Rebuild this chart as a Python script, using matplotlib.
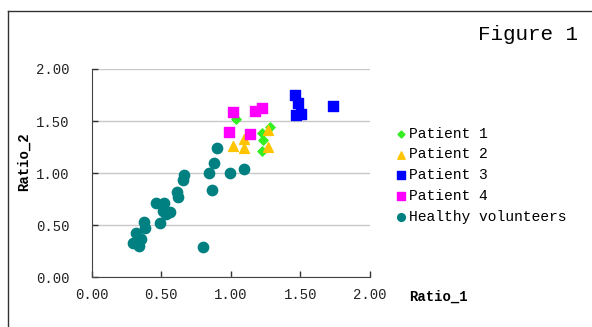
"""
Ratio_1 vs Ratio_2 scatter for four patients and healthy volunteers (Figure 1).
"""
import matplotlib
matplotlib.use("Agg")
import matplotlib.pyplot as plt
from matplotlib.lines import Line2D

# ---- data -----------------------------------------------------------------
p1_x = [1.036, 1.223, 1.283, 1.228, 1.223]
p1_y = [1.522, 1.385, 1.439, 1.321, 1.215]

p2_x = [1.019, 1.091, 1.098, 1.264, 1.264]
p2_y = [1.263, 1.327, 1.240, 1.417, 1.247]

p3_x = [1.463, 1.482, 1.468, 1.506, 1.731]
p3_y = [1.747, 1.673, 1.554, 1.567, 1.647]

p4_x = [1.014, 0.990, 1.175, 1.225, 1.137]
p4_y = [1.590, 1.394, 1.593, 1.625, 1.378]

hv_x = [0.299, 0.342, 0.352, 0.319, 0.383, 0.376, 0.491, 0.463, 0.520, 0.511,
        0.563, 0.535, 0.616, 0.622, 0.659, 0.664, 0.846, 0.868, 0.882, 0.899,
        0.995, 1.091, 0.800]
hv_y = [0.327, 0.301, 0.365, 0.423, 0.471, 0.535, 0.525, 0.717, 0.717, 0.640,
        0.625, 0.612, 0.823, 0.775, 0.936, 0.984, 1.000, 0.839, 1.096, 1.240,
        1.000, 1.038, 0.295]

ticks = [0.0, 0.5, 1.0, 1.5, 2.0]
tick_labels = ["0.00", "0.50", "1.00", "1.50", "2.00"]

MONO = ["Liberation Mono", "DejaVu Sans Mono"]

fig = plt.figure(figsize=(5.92, 3.27), dpi=100)
ax = fig.add_axes([0.1549, 0.152, 0.4701, 0.637])

ax.scatter(p1_x, p1_y, marker="D", s=22, color="#33ee22", label="Patient 1", zorder=3)
ax.scatter(p2_x, p2_y, marker="^", s=50, color="#ffc400", label="Patient 2", zorder=3)
ax.scatter(p3_x, p3_y, marker="s", s=50, color="#0000ff", label="Patient 3", zorder=3)
ax.scatter(p4_x, p4_y, marker="s", s=50, color="#ff00ff", label="Patient 4", zorder=3)
ax.scatter(hv_x, hv_y, marker="o", s=55, color="#008080", label="Healthy volunteers", zorder=3)

ax.set_xlim(0, 2)
ax.set_ylim(0, 2)
ax.set_xticks(ticks)
ax.set_yticks(ticks)
ax.set_xticklabels(tick_labels, family=MONO, fontsize=10, color="#222222")
ax.set_yticklabels(tick_labels, family=MONO, fontsize=10, color="#222222")
ax.tick_params(axis="both", direction="in", length=4, width=1, color="#333333")
ax.tick_params(axis="x", pad=8)
ax.tick_params(axis="y", pad=16)
ax.grid(axis="y", color="#c8c8c8", linewidth=1)
ax.set_axisbelow(True)
for spine in ("top", "right"):
    ax.spines[spine].set_visible(False)
for spine in ("left", "bottom"):
    ax.spines[spine].set_color("#444444")

fig.text(0.691, 0.094, "Ratio_1", family=MONO, fontsize=10, fontweight="bold",
         ha="left", va="center")
fig.text(0.040, 0.505, "Ratio_2", family=MONO, fontsize=10, fontweight="bold",
         ha="center", va="center", rotation=90)
fig.text(0.807, 0.893, "Figure 1", family=MONO, fontsize=15, ha="left", va="center")

ax.legend(loc="upper left", bbox_to_anchor=(0.653, 0.613), bbox_transform=fig.transFigure,
          frameon=False, prop={"family": MONO, "size": 10.5}, handletextpad=-0.45,
          labelspacing=0.47, markerscale=0.75, borderaxespad=0, borderpad=0)

# outer frame (left and top edges visible in the reference)
fig.add_artist(Line2D([8 / 592, 8 / 592], [0, 1 - 11 / 327], color="#333333", linewidth=1))
fig.add_artist(Line2D([8 / 592, 1], [1 - 11 / 327, 1 - 11 / 327], color="#333333", linewidth=1))

fig.savefig("out.png", dpi=100)
